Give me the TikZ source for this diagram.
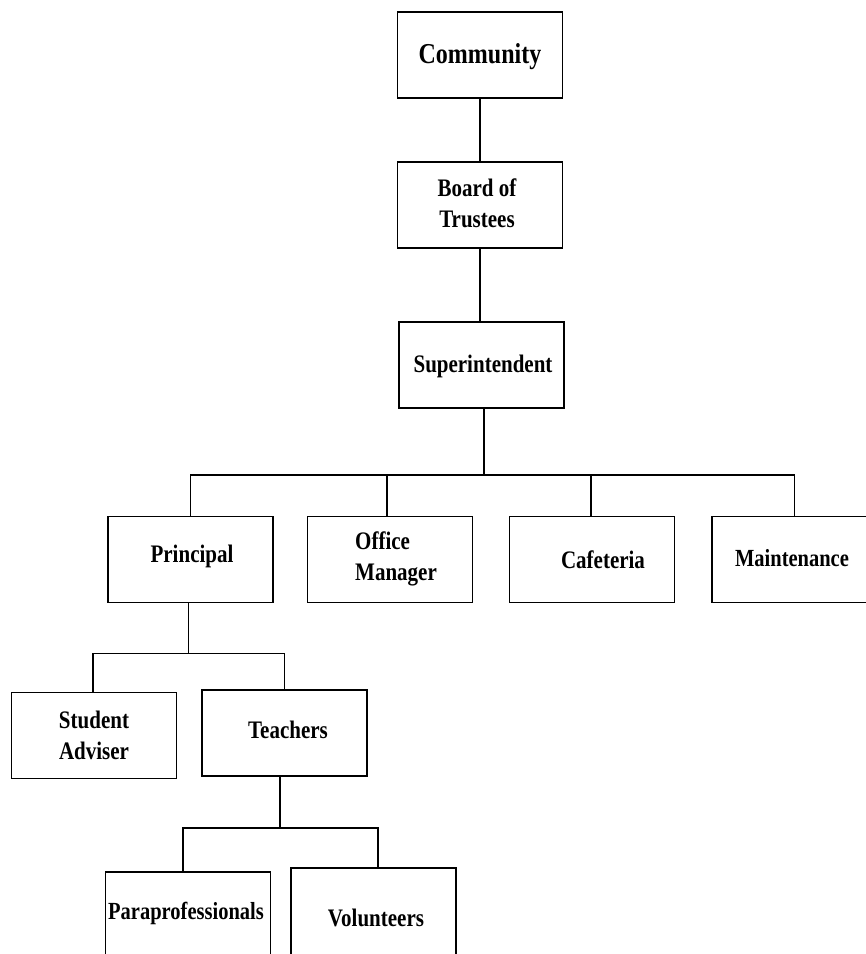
\documentclass[tikz,border=0pt]{standalone}
\usepackage{fontspec}
\setmainfont{Liberation Serif}
\usepackage{graphicx}
\newcommand{\lbltext}[3][c]{\scalebox{1}[1.2]{\fontsize{#2}{26}\selectfont\bfseries\begin{tabular}{@{}#1@{}}#3\end{tabular}}}
\begin{document}
\begin{tikzpicture}[x=1pt,y=-1pt,
  box/.style={draw, line width=1.5pt, minimum width=165pt, minimum height=86pt, inner sep=0pt},
  tallbox/.style={box, minimum height=120pt},
  lbl/.style={inner sep=0pt},
  conn/.style={line width=1.5pt}]
\useasboundingbox (0,0) rectangle (866,954);
\fill[white] (0,0) rectangle (866,954);
\clip (0,0) rectangle (866,954);

% boxes
\node[box] (community) at (480,55) {};
\node[box] (board) at (480,205) {};
\node[box] (super) at (481.5,365) {};
\node[box] (principal) at (190.5,559.5) {};
\node[box] (office) at (390,559.5) {};
\node[box] (cafeteria) at (592,559.5) {};
\node[box] (maint) at (794.5,559.5) {};
\node[box] (student) at (94,735.5) {};
\node[box] (teachers) at (284.5,733) {};
\node[tallbox] (para) at (188,932) {};
\node[tallbox] (volunteers) at (373.5,928) {};

% labels
\node[lbl] (communityT) at (480,57) {\lbltext{24}{Community}};
\node[lbl] (boardT) at (477,206) {\lbltext{21}{Board of\\Trustees}};
\node[lbl] (superT) at (483,366) {\lbltext{21}{Superintendent}};
\node[lbl] (principalT) at (192,556) {\lbltext{21}{Principal}};
\node[lbl,anchor=west] (officeT) at (355,559) {\lbltext[l]{21}{Office\\Manager}};
\node[lbl] (cafeteriaT) at (603,562) {\lbltext{21}{Cafeteria}};
\node[lbl] (maintT) at (792,560) {\lbltext{20.5}{Maintenance}};
\node[lbl] (studentT) at (94,738) {\lbltext{21}{Student\\Adviser}};
\node[lbl] (teachersT) at (288,732) {\lbltext{21}{Teachers}};
\node[lbl] (paraT) at (186,913) {\lbltext{20.5}{Paraprofessionals}};
\node[lbl] (volunteersT) at (376,920) {\lbltext{21}{Volunteers}};

% connectors
\draw[conn] (community.south) -- (board.north);
\draw[conn] (board.south) -- (board.south |- super.north);
\draw[conn] ([xshift=2.5pt]super.south) -- ++(0,66) coordinate (bar2);
\draw[conn] (principal.north) -- (principal.north |- bar2) -- (maint.north |- bar2) -- (maint.north);
\draw[conn] ([xshift=-3pt]office.north) -- ([xshift=-3pt]office.north |- bar2);
\draw[conn] ([xshift=-1pt]cafeteria.north) -- ([xshift=-1pt]cafeteria.north |- bar2);

\draw[conn] ([xshift=-2pt]principal.south) -- ++(0,50) coordinate (bar3);
\draw[conn] ([xshift=-1pt]student.north) -- ([xshift=-1pt]student.north |- bar3) -- (teachers.north |- bar3) -- (teachers.north);

\draw[conn] ([xshift=-4.5pt]teachers.south) -- ++(0,51) coordinate (bar4);
\draw[conn] ([xshift=-5pt]para.north) -- ([xshift=-5pt]para.north |- bar4) -- ([xshift=4.5pt]volunteers.north |- bar4) -- ([xshift=4.5pt]volunteers.north);
\end{tikzpicture}
\end{document}
